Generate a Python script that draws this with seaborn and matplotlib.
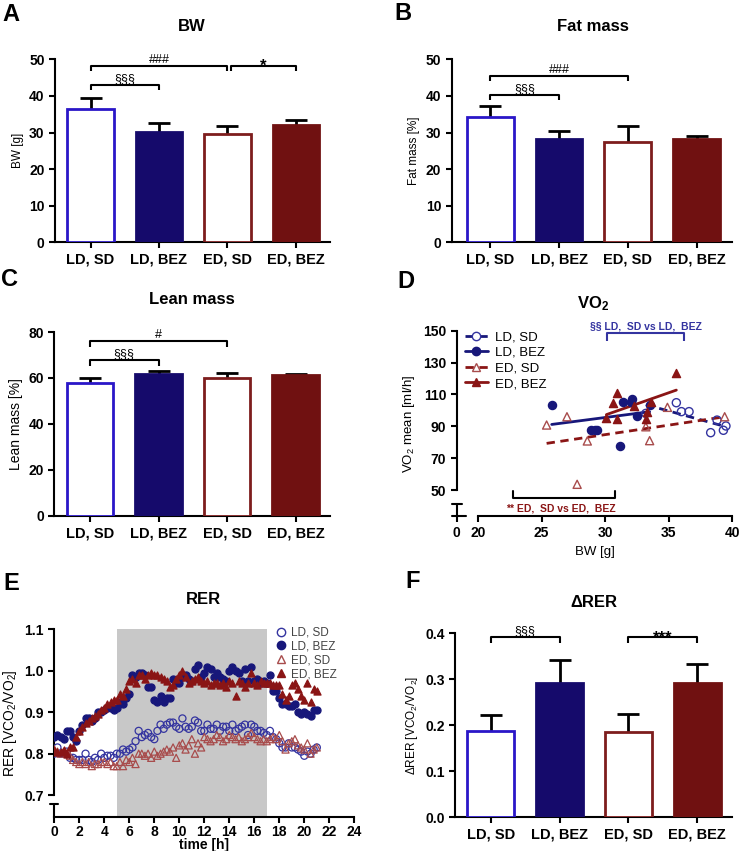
import numpy as np
import pandas as pd
import matplotlib
matplotlib.use('Agg')
import matplotlib.pyplot as plt
from matplotlib.lines import Line2D
import seaborn as sns

# ---------------- data ----------------
groups = ['LD, SD', 'LD, BEZ', 'ED, SD', 'ED, BEZ']

bw_mean = [36.5, 30.2, 29.6, 32.1]
bw_sem = [3.0, 2.4, 2.2, 1.4]
fat_mean = [34.2, 28.3, 27.3, 28.1]
fat_sem = [3.1, 2.2, 4.6, 1.0]
lean_mean = [57.7, 61.5, 60.0, 61.4]
lean_sem = [2.1, 1.6, 2.2, 0.5]
drer_mean = [0.188, 0.293, 0.186, 0.293]
drer_sem = [0.034, 0.049, 0.039, 0.040]

# VO2 vs BW (panel D)
ldsd_bw = [33.2, 35.6, 36.0, 36.6, 38.3, 38.8, 39.3, 39.5]
ldsd_vo2 = [98.1, 104.8, 99.2, 99.2, 86.0, 93.9, 87.5, 90.2]
ldbez_bw = [25.8, 28.9, 29.2, 29.4, 31.2, 31.4, 32.0, 32.1, 32.5, 33.5]
ldbez_vo2 = [103.4, 87.7, 87.7, 87.7, 77.8, 105.0, 105.0, 107.1, 96.6, 103.4]
edsd_bw = [25.4, 27.0, 27.8, 28.6, 33.2, 33.5, 34.9, 39.4]
edsd_vo2 = [90.8, 96.0, 53.6, 80.8, 89.7, 81.0, 101.9, 96.0]
edbez_bw = [30.1, 30.6, 30.9, 30.9, 32.3, 33.2, 33.3, 33.6, 35.6]
edbez_vo2 = [95.4, 104.8, 111.1, 94.4, 102.7, 94.6, 99.2, 105.4, 123.2]

# RER time course (panel E), one value every 15 min from 0 to 21 h
time_h = np.arange(85) * 0.25
rer_ldsd = [0.800, 0.815, 0.800, 0.800, 0.805, 0.790, 0.790, 0.785, 0.785, 0.785,
            0.800, 0.785, 0.780, 0.790, 0.785, 0.800, 0.790, 0.795, 0.795, 0.790,
            0.800, 0.800, 0.810, 0.805, 0.810, 0.815, 0.830, 0.855, 0.840, 0.845,
            0.850, 0.840, 0.835, 0.855, 0.870, 0.860, 0.870, 0.875, 0.875, 0.865,
            0.860, 0.885, 0.865, 0.860, 0.865, 0.880, 0.875, 0.855, 0.855, 0.870,
            0.860, 0.860, 0.870, 0.855, 0.865, 0.865, 0.855, 0.870, 0.855, 0.860,
            0.865, 0.870, 0.845, 0.870, 0.865, 0.855, 0.855, 0.850, 0.845, 0.855,
            0.840, 0.835, 0.825, 0.815, 0.815, 0.825, 0.815, 0.815, 0.810, 0.805,
            0.795, 0.805, 0.800, 0.810, 0.815]
rer_ldbez = [0.840, 0.845, 0.840, 0.835, 0.855, 0.855, 0.840, 0.830, 0.855, 0.870,
             0.885, 0.885, 0.880, 0.885, 0.900, 0.900, 0.905, 0.910, 0.910, 0.905,
             0.910, 0.925, 0.920, 0.935, 0.945, 0.990, 0.985, 0.995, 0.995, 0.990,
             0.960, 0.960, 0.930, 0.925, 0.940, 0.925, 0.935, 0.935, 0.980, 0.970,
             0.970, 0.985, 0.990, 0.980, 0.975, 1.005, 1.015, 0.985, 0.995, 1.010,
             1.005, 0.985, 0.995, 0.985, 0.980, 0.975, 1.000, 1.010, 1.000, 0.995,
             0.975, 1.005, 0.975, 1.010, 0.975, 0.980, 0.970, 0.975, 0.970, 0.990,
             0.950, 0.950, 0.935, 0.920, 0.920, 0.915, 0.915, 0.920, 0.900, 0.895,
             0.900, 0.895, 0.890, 0.905, 0.905]
rer_edsd = [0.810, 0.805, 0.800, 0.805, 0.800, 0.795, 0.785, 0.780, 0.775, 0.780,
            0.775, 0.780, 0.770, 0.775, 0.775, 0.780, 0.780, 0.775, 0.780, 0.770,
            0.770, 0.780, 0.770, 0.785, 0.780, 0.790, 0.775, 0.800, 0.800, 0.795,
            0.800, 0.790, 0.805, 0.795, 0.800, 0.805, 0.810, 0.805, 0.815, 0.790,
            0.820, 0.825, 0.810, 0.820, 0.835, 0.800, 0.825, 0.815, 0.840, 0.835,
            0.830, 0.835, 0.845, 0.840, 0.830, 0.835, 0.845, 0.840, 0.835, 0.840,
            0.830, 0.835, 0.840, 0.850, 0.840, 0.835, 0.830, 0.835, 0.830, 0.835,
            0.840, 0.835, 0.845, 0.830, 0.810, 0.825, 0.830, 0.835, 0.820, 0.815,
            0.810, 0.825, 0.800, 0.810, 0.815]
rer_edbez = [0.810, 0.805, 0.805, 0.810, 0.800, 0.815, 0.815, 0.840, 0.855, 0.865,
             0.875, 0.880, 0.885, 0.890, 0.895, 0.905, 0.910, 0.920, 0.925, 0.930,
             0.930, 0.945, 0.940, 0.955, 0.975, 0.980, 0.970, 0.990, 0.990, 0.980,
             0.990, 0.995, 0.990, 0.990, 0.985, 0.980, 0.975, 0.960, 0.965, 0.980,
             0.990, 1.000, 0.985, 0.970, 0.975, 0.980, 0.985, 0.975, 0.970, 0.975,
             0.965, 0.970, 0.970, 0.965, 0.970, 0.960, 0.975, 0.970, 0.940, 0.975,
             0.970, 0.960, 0.970, 0.995, 0.970, 0.965, 0.975, 0.970, 0.970, 0.970,
             0.965, 0.965, 0.965, 0.945, 0.930, 0.940, 0.965, 0.970, 0.955, 0.940,
             0.930, 0.970, 0.925, 0.955, 0.950]

# ---------------- style ----------------
sns.set_style('ticks', {'axes.edgecolor': 'black', 'xtick.color': 'black',
                        'ytick.color': 'black', 'text.color': 'black',
                        'axes.labelcolor': 'black'})
plt.rcParams['font.family'] = ['Liberation Sans', 'DejaVu Sans']
plt.rcParams['mathtext.fontset'] = 'custom'
plt.rcParams['mathtext.rm'] = 'Liberation Sans'
plt.rcParams['mathtext.it'] = 'Liberation Sans:italic'
plt.rcParams['mathtext.bf'] = 'Liberation Sans:bold'
plt.rcParams['axes.linewidth'] = 1.5

BLUE = '#2a16c8'
NAVY = '#150a6b'
RED = '#7d1d1d'
MAROON = '#701111'
bar_fill = ['white', NAVY, 'white', MAROON]
bar_edge = [BLUE, NAVY, RED, MAROON]

PT_NAVY = '#17177a'
PT_NAVY_OPEN = '#3434a0'
PT_RED = '#8a1515'
PT_RED_OPEN = '#a84c4c'

W, H = 740, 851
fig = plt.figure(figsize=(W / 100, H / 100), dpi=100)


def axpos(l, r, t, b):
    return [l / W, 1 - b / H, (r - l) / W, (b - t) / H]


def style_ticks(ax, size=10):
    ax.tick_params(direction='out', length=4, width=1.5, labelsize=size)
    for lbl in ax.get_xticklabels() + ax.get_yticklabels():
        lbl.set_fontweight('bold')


def bar_panel(rect, means, sems, ymax, yticks, ylabel, fmt=None):
    ax = fig.add_axes(rect)
    df = pd.DataFrame({'group': groups, 'value': means})
    sns.barplot(data=df, x='group', y='value', ax=ax, width=0.68,
                color='white', errorbar=None)
    for p, fc, ec in zip(ax.patches, bar_fill, bar_edge):
        p.set_facecolor(fc)
        p.set_edgecolor(ec)
        p.set_linewidth(2)
        p.set_zorder(3)
    x = np.arange(len(means))
    top = np.array(means) + np.array(sems)
    ax.vlines(x, means, top, color='black', lw=2, zorder=2)
    ax.hlines(top, x - 0.16, x + 0.16, color='black', lw=2, zorder=2)
    ax.set_xlim(-0.52, 3.5)
    ax.set_ylim(0, ymax)
    ax.set_yticks(yticks)
    if fmt:
        ax.set_yticklabels([fmt.format(v) for v in yticks])
    ax.set_xlabel('')
    ax.set_ylabel(ylabel, fontsize=8.5)
    sns.despine(ax=ax)
    style_ticks(ax)
    ax.tick_params(axis='x', labelsize=10.5)
    return ax


def bracket(ax, x1, x2, y, h, label, dy=0, size=9, weight='normal', color='black'):
    ax.plot([x1, x1, x2, x2], [y - h, y, y, y - h], color=color, lw=1.5,
            clip_on=False, solid_capstyle='butt')
    ax.annotate(label, ((x1 + x2) / 2, y), xytext=(0, dy), textcoords='offset points',
                ha='center', va='bottom', fontsize=size, fontweight=weight,
                color=color, annotation_clip=False)


# ---------------- A: BW ----------------
axA = bar_panel(axpos(55, 330, 59.3, 242.3), bw_mean, bw_sem, 50,
                [0, 10, 20, 30, 40, 50], 'BW [g]')
bracket(axA, 0, 1, 43.0, 1.4, '§§§')
bracket(axA, 0, 2, 48.2, 1.4, '###')
bracket(axA, 2.06, 3, 48.2, 1.4, '*', dy=-6, size=12, weight='bold')

# ---------------- B: Fat mass ----------------
axB = bar_panel(axpos(451.7, 731.7, 59.3, 242.3), fat_mean, fat_sem, 50,
                [0, 10, 20, 30, 40, 50], 'Fat mass [%]')
axB.set_xlim(-0.56, 3.51)
bracket(axB, 0, 1, 40.2, 1.3, '§§§')
bracket(axB, 0, 2, 45.4, 1.3, '###')

# ---------------- C: Lean mass ----------------
axC = bar_panel(axpos(54.3, 330, 332, 515.7), lean_mean, lean_sem, 80,
                [0, 20, 40, 60, 80], 'Lean mass [%]')
axC.yaxis.label.set_fontsize(10)
bracket(axC, 0, 1, 67.8, 2.5, '§§§')
bracket(axC, 0, 2, 76.1, 2.5, '#')

# ---------------- F: delta RER ----------------
axF = bar_panel(axpos(455, 731.7, 633.3, 817.3), drer_mean, drer_sem, 0.4,
                [0.0, 0.1, 0.2, 0.3, 0.4], 'ΔRER [VCO$_2$/VO$_2$]', fmt='{:.1f}')
bracket(axF, 0, 1, 0.391, 0.011, '§§§')
bracket(axF, 2, 3, 0.391, 0.011, '***', dy=-6, size=12, weight='bold')

# ---------------- D: VO2 vs BW ----------------
axD = fig.add_axes(axpos(456.7, 732.3, 330.7, 516))
x0, y0 = 18.33, 33.7
sets = [
    (ldsd_bw, ldsd_vo2, 'o', PT_NAVY_OPEN, True, '--', PT_NAVY),
    (ldbez_bw, ldbez_vo2, 'o', PT_NAVY, False, '-', PT_NAVY),
    (edsd_bw, edsd_vo2, '^', PT_RED_OPEN, True, '--', PT_RED),
    (edbez_bw, edbez_vo2, '^', PT_RED, False, '-', PT_RED),
]
for bw, vo2, mk, col, hollow, ls, lcol in sets:
    sns.regplot(x=bw, y=vo2, ax=axD, scatter=False, ci=None, truncate=True,
                color=lcol, line_kws={'ls': ls, 'lw': 2, 'dashes': (3, 2)} if ls == '--'
                else {'lw': 2})
for bw, vo2, mk, col, hollow, ls, lcol in sets:
    sns.scatterplot(x=bw, y=vo2, ax=axD, marker=mk, color=col, s=34,
                    linewidth=1, edgecolor=col, zorder=4)
    if hollow:
        axD.collections[-1].set_facecolor('none')
axD.set_xlim(x0, 40)
axD.set_ylim(y0, 150)
axD.set_yticks([50, 70, 90, 110, 130, 150])
axD.set_xticks([x0, 20, 25, 30, 35, 40])
axD.set_xticklabels(['0', '20', '25', '30', '35', '40'])
sns.despine(ax=axD)
axD.spines['left'].set_bounds(50, 150)
axD.spines['bottom'].set_bounds(20, 40)
axD.plot([x0, x0], [y0, 41.2], color='black', lw=1.5, clip_on=False)
axD.plot([x0 - 0.4, x0 + 0.4], [41.2, 41.2], color='black', lw=1.5, clip_on=False)
axD.plot([x0 - 0.4, x0 + 0.75], [y0, y0], color='black', lw=1.5, clip_on=False)
axD.set_xlabel('BW [g]', fontsize=9.5)
axD.set_ylabel('VO$_2$ mean [ml/h]', fontsize=9.5)
style_ticks(axD)
bracket(axD, 30.18, 36.23, 148.4, 4.9, '§§ LD,  SD vs LD,  BEZ', dy=1, size=7.5,
        weight='bold', color=PT_NAVY_OPEN)
axD.plot([22.76, 22.76, 30.76, 30.76], [49.6, 44.8, 44.8, 49.6], color='black',
         lw=1.5, clip_on=False)
axD.text(26.5, 38.4, '** ED,  SD vs ED,  BEZ', ha='center', va='center',
         fontsize=7.5, fontweight='bold', color=PT_RED)
d_handles = [
    Line2D([], [], color=PT_NAVY, ls='--', dashes=(3, 2), lw=2, marker='o',
           mfc='white', mec=PT_NAVY_OPEN, ms=6),
    Line2D([], [], color=PT_NAVY, ls='-', lw=2, marker='o', mfc=PT_NAVY,
           mec=PT_NAVY, ms=6),
    Line2D([], [], color=PT_RED, ls='--', dashes=(3, 2), lw=2, marker='^',
           mfc='white', mec=PT_RED_OPEN, ms=6),
    Line2D([], [], color=PT_RED, ls='-', lw=2, marker='^', mfc=PT_RED,
           mec=PT_RED, ms=6),
]
axD.legend(d_handles, groups, loc='upper left', bbox_to_anchor=(0.0, 1.04),
           frameon=False, fontsize=9.5, handlelength=1.8, borderaxespad=0.2,
           labelspacing=0.25, handletextpad=0.5)

# ---------------- E: RER time course ----------------
axE = fig.add_axes(axpos(54.3, 354.3, 629.3, 816.7))
ey0 = 0.648
axE.axvspan(5, 17, color='#c8c8c8', zorder=0, lw=0)
e_sets = [
    (rer_ldsd, 'o', PT_NAVY_OPEN, True),
    (rer_ldbez, 'o', PT_NAVY, False),
    (rer_edsd, '^', PT_RED_OPEN, True),
    (rer_edbez, '^', PT_RED, False),
]
for vals, mk, col, hollow in e_sets:
    sns.scatterplot(x=time_h, y=vals, ax=axE, marker=mk, color=col, s=26,
                    linewidth=0.9, edgecolor=col, zorder=3)
    if hollow:
        axE.collections[-1].set_facecolor('none')
axE.set_xlim(0, 24)
axE.set_ylim(ey0, 1.1)
axE.set_xticks(range(0, 25, 2))
axE.set_yticks([0.7, 0.8, 0.9, 1.0, 1.1])
axE.set_yticklabels(['0.7', '0.8', '0.9', '1.0', '1.1'])
sns.despine(ax=axE)
axE.spines['left'].set_bounds(0.7, 1.1)
axE.plot([0, 0], [ey0, 0.679], color='black', lw=1.5, clip_on=False)
axE.plot([-0.32, 0.32], [0.679, 0.679], color='black', lw=1.5, clip_on=False)
axE.set_ylabel('RER [VCO$_2$/VO$_2$]', fontsize=10)
style_ticks(axE)
axE.tick_params(axis='x', pad=2)
axE.set_xlabel('time [h]', fontsize=10, fontweight='bold', labelpad=-1)
e_handles = [
    Line2D([], [], ls='none', marker='o', mfc='none', mec=PT_NAVY_OPEN, ms=6),
    Line2D([], [], ls='none', marker='o', mfc=PT_NAVY, mec=PT_NAVY, ms=6),
    Line2D([], [], ls='none', marker='^', mfc='none', mec=PT_RED_OPEN, ms=6),
    Line2D([], [], ls='none', marker='^', mfc=PT_RED, mec=PT_RED, ms=6),
]
leg = axE.legend(e_handles, groups, loc='upper left', bbox_to_anchor=(0.70, 1.07),
                 frameon=False, fontsize=8.5, handlelength=1.0, labelspacing=0.15,
                 handletextpad=0.4)
for t in leg.get_texts():
    t.set_color('#444444')

# ---------------- titles and panel letters ----------------
titles = [('BW', 191.7, 26.7), ('Fat mass', 593, 26.7), ('Lean mass', 191.7, 300),
          ('VO$_\\mathbf{2}$', 593.3, 303.3), ('RER', 203.3, 599.3), ('ΔRER', 594, 602.7)]
for txt, x, y in titles:
    fig.text(x / W, 1 - y / H, txt, ha='center', va='center', fontsize=12,
             fontweight='bold')
letters = [('A', 11, 14.5), ('B', 403, 13), ('C', 10, 280), ('D', 406, 281),
           ('E', 11, 583), ('F', 413, 582)]
for txt, x, y in letters:
    fig.text(x / W, 1 - y / H, txt, ha='center', va='center', fontsize=17,
             fontweight='bold')

fig.savefig('out.png', dpi=100)
